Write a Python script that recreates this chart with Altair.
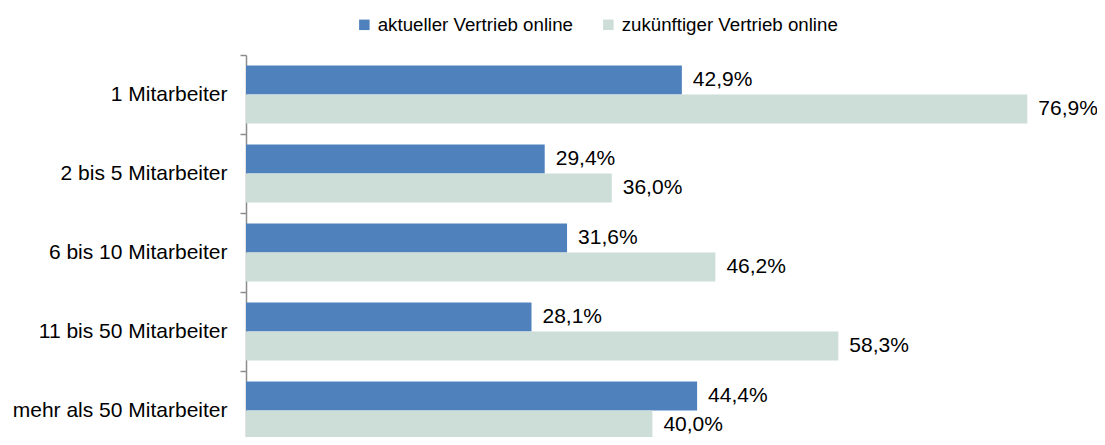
import altair as alt
import pandas as pd

categories = ["1 Mitarbeiter", "2 bis 5 Mitarbeiter", "6 bis 10 Mitarbeiter",
              "11 bis 50 Mitarbeiter", "mehr als 50 Mitarbeiter"]
series = ["aktueller Vertrieb online", "zukünftiger Vertrieb online"]
aktuell = [42.9, 29.4, 31.6, 28.1, 44.4]
zukuenftig = [76.9, 36.0, 46.2, 58.3, 40.0]
colors = ["#4F81BD", "#CDDED8"]

rows = []
for i, c in enumerate(categories):
    for s, vals in zip(series, [aktuell, zukuenftig]):
        v = vals[i]
        rows.append({"cat": c, "series": s, "value": v,
                     "label": f"{v:.1f}".replace(".", ",") + "%"})
df = pd.DataFrame(rows)

FONT = "Liberation Sans"

y = alt.Y("cat:N", sort=categories,
          scale=alt.Scale(paddingInner=0, paddingOuter=0, range=[0, 395]),
          axis=alt.Axis(title=None, tickBand="extent", domainColor="#8C8C8C",
                        domainWidth=1.5, tickColor="#8C8C8C", tickWidth=1.5,
                        tickSize=6, labelPadding=13, labelFontSize=21,
                        labelFont=FONT, labelColor="#000000", labelLimit=400))
yoff = alt.YOffset("series:N", sort=series,
                   scale=alt.Scale(paddingInner=0, paddingOuter=0.36))
x = alt.X("value:Q", scale=alt.Scale(domain=[0, 100], range=[0, 1016]),
          axis=None)

base = alt.Chart(df)

bars = base.mark_bar(clip=False).encode(
    x=x, y=y, yOffset=yoff,
    color=alt.Color("series:N", sort=series,
                    scale=alt.Scale(domain=series, range=colors),
                    legend=alt.Legend(title=None, orient="none", direction="horizontal",
                                      legendX=109, legendY=-40,
                                      symbolType="square", symbolSize=110,
                                      symbolStrokeWidth=0, labelFontSize=18.7,
                                      labelFont=FONT, labelColor="#000000",
                                      labelOffset=4, columnPadding=26,
                                      labelLimit=400)),
)

texts = base.mark_text(align="left", baseline="middle", dx=11, fontSize=21,
                       font=FONT, color="#000000", clip=False).encode(
    x=x, y=y, yOffset=yoff, text="label:N")

chart = (bars + texts).properties(
    width=800, height=382, background="white",
    padding={"left": 238, "top": 47, "right": 51, "bottom": 0},
    autosize=alt.AutoSizeParams(type="none"),
).configure_view(stroke=None)

chart.save("out.html", embed_options={"renderer": "svg", "actions": False})
